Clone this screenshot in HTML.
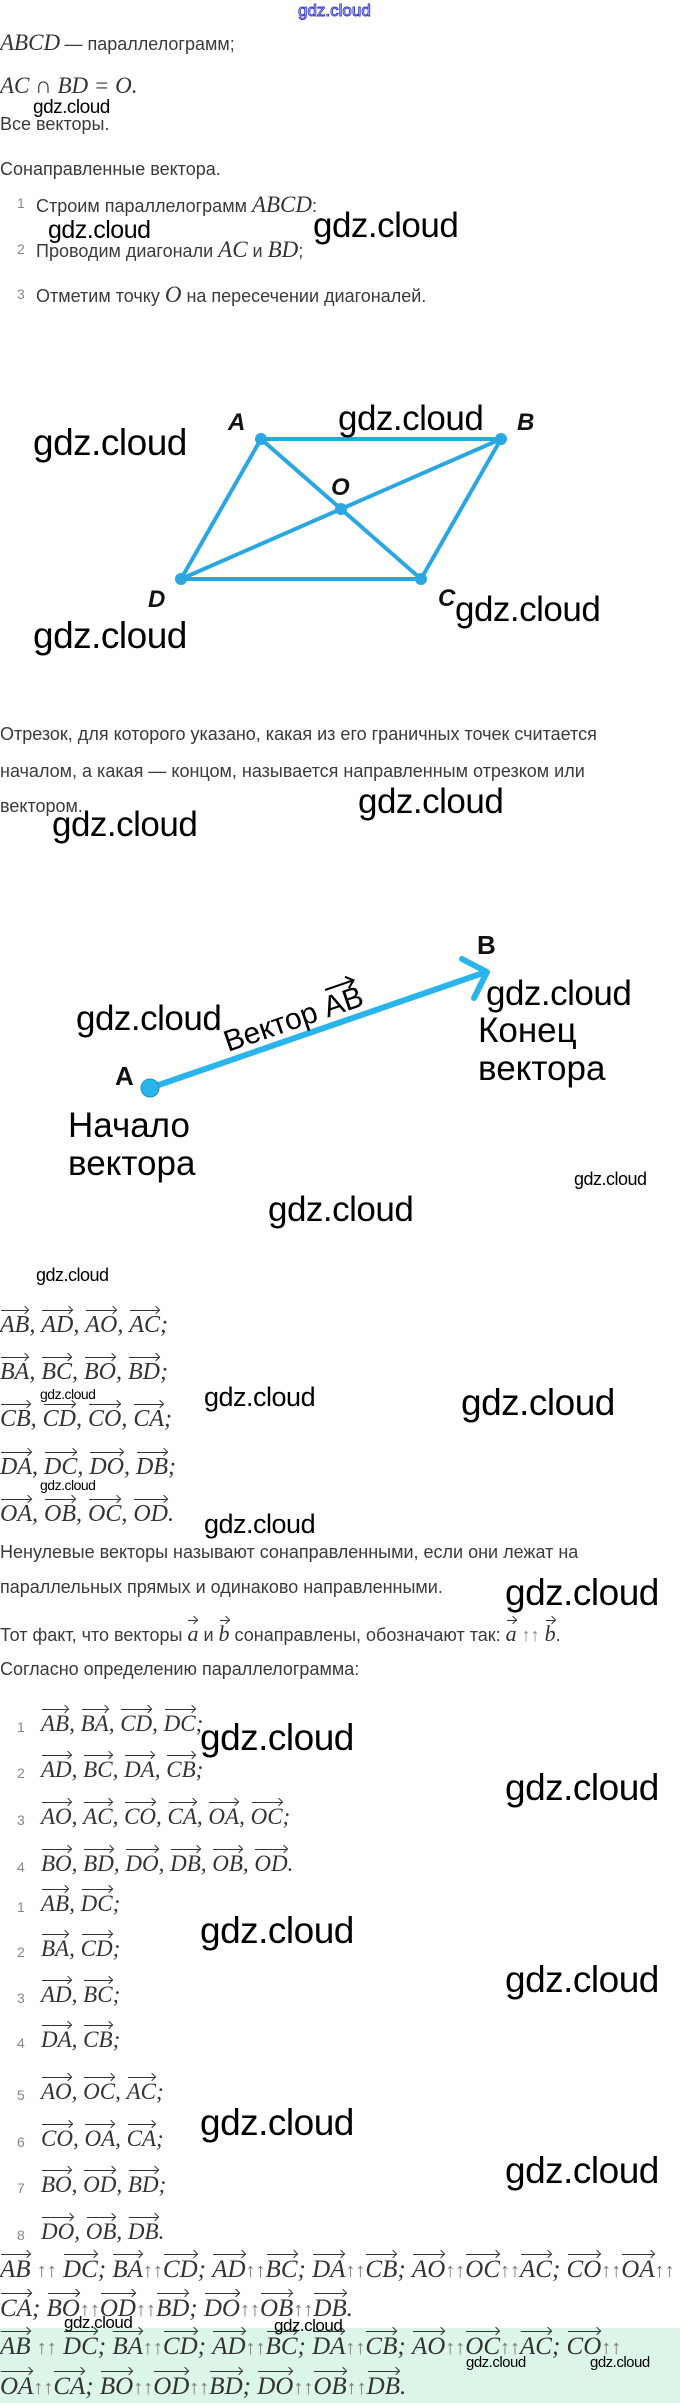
<!DOCTYPE html>
<html><head><meta charset="utf-8"><style>
body{margin:0;width:680px;height:2403px;position:relative;background:#fff;overflow:hidden;font-family:"Liberation Sans",sans-serif;}
.a{position:absolute;white-space:nowrap;line-height:1;}
.t{color:#3a3a3a;font-size:18px;}
.m{font-family:"Liberation Serif",serif;font-style:italic;color:#333;}
.n{color:#888;font-size:14px;}
.w{color:#000;font-family:"Liberation Sans",sans-serif;letter-spacing:-0.5px;}
.v{position:relative;display:inline-block;}
.v::before{content:"";position:absolute;left:1px;right:1px;top:-3px;border-top:1.3px solid #333;}
.v::after{content:"";position:absolute;right:1px;top:-6px;width:5px;height:5px;border-top:1.3px solid #333;border-right:1.3px solid #333;transform:rotate(45deg);}
.l{font-size:25px;color:#333;}
.ar{font-style:normal;color:#777;font-size:20px;}
</style></head><body>
<div class="a" style="left:298px;top:2px;font-size:17px;color:#fff;-webkit-text-stroke:1px #3b3bd0;font-family:'Liberation Sans',sans-serif;">gdz.cloud</div>

<div class="a" style="left:0;top:31px;"><span class="m" style="font-size:23px">ABCD</span> <span class="t">— параллелограмм;</span></div>
<div class="a m" style="left:0;top:74px;font-size:23px;">AC ∩ BD = O.</div>
<div class="a w" style="left:33px;top:98px;font-size:19px;">gdz.cloud</div>
<div class="a t" style="left:0;top:115px;">Все векторы.</div>
<div class="a t" style="left:0;top:160px;">Сонаправленные вектора.</div>
<div class="a" style="left:17px;top:196px;"><span class="n">1</span></div>
<div class="a t" style="left:36px;top:193px;">Строим параллелограмм <span class="m" style="font-size:23px">ABCD</span>:</div>
<div class="a w" style="left:48px;top:218px;font-size:25px;">gdz.cloud</div>
<div class="a w" style="left:313px;top:208px;font-size:35px;">gdz.cloud</div>
<div class="a" style="left:17px;top:242px;"><span class="n">2</span></div>
<div class="a t" style="left:36px;top:238px;">Проводим диагонали <span class="m" style="font-size:23px">AC</span> и <span class="m" style="font-size:23px">BD</span>;</div>
<div class="a" style="left:17px;top:287px;"><span class="n">3</span></div>
<div class="a t" style="left:36px;top:283px;">Отметим точку <span class="m" style="font-size:23px">O</span> на пересечении диагоналей.</div>

<svg class="a" style="left:0;top:0" width="680" height="1250">
<g stroke="#2aa7e0" stroke-width="4" fill="none" stroke-linecap="round">
<polygon points="261,439 501,439 421,579 181,579"/>
<line x1="261" y1="439" x2="421" y2="579"/><line x1="501" y1="439" x2="181" y2="579"/>
</g>
<g fill="#2aa7e0"><circle cx="261" cy="439" r="6"/><circle cx="501" cy="439" r="6"/><circle cx="421" cy="579" r="6"/><circle cx="181" cy="579" r="6"/><circle cx="341" cy="509" r="6"/></g>
<g font-family="Liberation Sans,sans-serif" font-style="italic" font-weight="bold" font-size="24" fill="#111">
<text x="228" y="430">A</text><text x="517" y="430">B</text><text x="331" y="495">O</text><text x="148" y="607">D</text><text x="438" y="606">C</text>
</g>
<line x1="150" y1="1088" x2="486" y2="972" stroke="#2ab4ec" stroke-width="6" stroke-linecap="round"/>
<polyline points="462,959 487,972 474,998" fill="none" stroke="#2ab4ec" stroke-width="6" stroke-linecap="round" stroke-linejoin="round"/>
<circle cx="150" cy="1088" r="9" fill="#2ab4ec" stroke="#1a8fc8" stroke-width="1"/>
<g font-family="Liberation Sans,sans-serif" font-weight="bold" font-size="26" fill="#111">
<text x="477" y="954">B</text><text x="115" y="1085">A</text>
</g>
<g transform="translate(228,1052) rotate(-19)">
<text x="0" y="0" font-family="Liberation Sans,sans-serif" font-size="30" fill="#000">Вектор AB</text>
<line x1="112" y1="-27" x2="142" y2="-27" stroke="#000" stroke-width="2"/>
<polyline points="135,-33 142,-27 135,-21" fill="none" stroke="#000" stroke-width="2"/>
</g>
</svg>
<div class="a w" style="left:33px;top:424px;font-size:37px;">gdz.cloud</div>
<div class="a w" style="left:338px;top:401px;font-size:35px;">gdz.cloud</div>
<div class="a w" style="left:455px;top:592px;font-size:35px;">gdz.cloud</div>
<div class="a w" style="left:33px;top:617px;font-size:37px;">gdz.cloud</div>

<div class="a t" style="left:0;top:725px;">Отрезок, для которого указано, какая из его граничных точек считается</div>
<div class="a t" style="left:0;top:762px;">началом, а какая — концом, называется направленным отрезком или</div>
<div class="a t" style="left:0;top:797px;">вектором.</div>
<div class="a w" style="left:358px;top:784px;font-size:35px;">gdz.cloud</div>
<div class="a w" style="left:52px;top:807px;font-size:35px;">gdz.cloud</div>

<div class="a w" style="left:76px;top:1001px;font-size:35px;">gdz.cloud</div>
<div class="a w" style="left:486px;top:976px;font-size:35px;">gdz.cloud</div>
<div class="a w" style="left:478px;top:1012px;font-size:35px;line-height:1.08;letter-spacing:0;">Конец<br>вектора</div>
<div class="a w" style="left:68px;top:1107px;font-size:35px;line-height:1.08;letter-spacing:0;">Начало<br>вектора</div>
<div class="a w" style="left:574px;top:1170px;font-size:18px;">gdz.cloud</div>
<div class="a w" style="left:268px;top:1192px;font-size:35px;">gdz.cloud</div>

<div class="a w" style="left:36px;top:1266px;font-size:18px;">gdz.cloud</div>
<div class="a m l" style="left:0;top:1313px;font-size:24px;"><span class="v">AB</span>, <span class="v">AD</span>, <span class="v">AO</span>, <span class="v">AC</span>;</div>
<div class="a m l" style="left:0;top:1360px;font-size:24px;"><span class="v">BA</span>, <span class="v">BC</span>, <span class="v">BO</span>, <span class="v">BD</span>;</div>
<div class="a w" style="left:40px;top:1387px;font-size:14px;">gdz.cloud</div>
<div class="a m l" style="left:0;top:1407px;font-size:24px;"><span class="v">CB</span>, <span class="v">CD</span>, <span class="v">CO</span>, <span class="v">CA</span>;</div>
<div class="a m l" style="left:0;top:1455px;font-size:24px;"><span class="v">DA</span>, <span class="v">DC</span>, <span class="v">DO</span>, <span class="v">DB</span>;</div>
<div class="a w" style="left:40px;top:1478px;font-size:14px;">gdz.cloud</div>
<div class="a m l" style="left:0;top:1502px;font-size:24px;"><span class="v">OA</span>, <span class="v">OB</span>, <span class="v">OC</span>, <span class="v">OD</span>.</div>
<div class="a w" style="left:204px;top:1384px;font-size:27px;">gdz.cloud</div>
<div class="a w" style="left:461px;top:1384px;font-size:37px;">gdz.cloud</div>
<div class="a w" style="left:204px;top:1511px;font-size:27px;">gdz.cloud</div>
<div class="a t" style="left:0;top:1543px;">Ненулевые векторы называют сонаправленными, если они лежат на</div>
<div class="a t" style="left:0;top:1578px;">параллельных прямых и одинаково направленными.</div>
<div class="a w" style="left:505px;top:1574px;font-size:37px;">gdz.cloud</div>
<div class="a t" style="left:0;top:1623px;">Тот факт, что векторы <span class="m v" style="font-size:22px">a</span> и <span class="m v" style="font-size:22px">b</span> сонаправлены, обозначают так: <span class="m v" style="font-size:22px">a</span> <span style="color:#888">↑↑</span> <span class="m v" style="font-size:22px">b</span>.</div>
<div class="a t" style="left:0;top:1660px;">Согласно определению параллелограмма:</div>

<div class="a n" style="left:17px;top:1720px;">1</div><div class="a m" style="left:41px;top:1712px;font-size:23px;"><span class="v">AB</span>, <span class="v">BA</span>, <span class="v">CD</span>, <span class="v">DC</span>;</div>
<div class="a n" style="left:17px;top:1766px;">2</div><div class="a m" style="left:41px;top:1758px;font-size:23px;"><span class="v">AD</span>, <span class="v">BC</span>, <span class="v">DA</span>, <span class="v">CB</span>;</div>
<div class="a n" style="left:17px;top:1813px;">3</div><div class="a m" style="left:41px;top:1805px;font-size:23px;"><span class="v">AO</span>, <span class="v">AC</span>, <span class="v">CO</span>, <span class="v">CA</span>, <span class="v">OA</span>, <span class="v">OC</span>;</div>
<div class="a n" style="left:17px;top:1860px;">4</div><div class="a m" style="left:41px;top:1852px;font-size:23px;"><span class="v">BO</span>, <span class="v">BD</span>, <span class="v">DO</span>, <span class="v">DB</span>, <span class="v">OB</span>, <span class="v">OD</span>.</div>
<div class="a n" style="left:17px;top:1900px;">1</div><div class="a m" style="left:41px;top:1892px;font-size:23px;"><span class="v">AB</span>, <span class="v">DC</span>;</div>
<div class="a n" style="left:17px;top:1945px;">2</div><div class="a m" style="left:41px;top:1937px;font-size:23px;"><span class="v">BA</span>, <span class="v">CD</span>;</div>
<div class="a n" style="left:17px;top:1991px;">3</div><div class="a m" style="left:41px;top:1983px;font-size:23px;"><span class="v">AD</span>, <span class="v">BC</span>;</div>
<div class="a n" style="left:17px;top:2036px;">4</div><div class="a m" style="left:41px;top:2028px;font-size:23px;"><span class="v">DA</span>, <span class="v">CB</span>;</div>
<div class="a n" style="left:17px;top:2088px;">5</div><div class="a m" style="left:41px;top:2080px;font-size:23px;"><span class="v">AO</span>, <span class="v">OC</span>, <span class="v">AC</span>;</div>
<div class="a n" style="left:17px;top:2135px;">6</div><div class="a m" style="left:41px;top:2127px;font-size:23px;"><span class="v">CO</span>, <span class="v">OA</span>, <span class="v">CA</span>;</div>
<div class="a n" style="left:17px;top:2181px;">7</div><div class="a m" style="left:41px;top:2173px;font-size:23px;"><span class="v">BO</span>, <span class="v">OD</span>, <span class="v">BD</span>;</div>
<div class="a n" style="left:17px;top:2228px;">8</div><div class="a m" style="left:41px;top:2220px;font-size:23px;"><span class="v">DO</span>, <span class="v">OB</span>, <span class="v">DB</span>.</div>
<div class="a w" style="left:200px;top:1719px;font-size:37px;">gdz.cloud</div>
<div class="a w" style="left:505px;top:1769px;font-size:37px;">gdz.cloud</div>
<div class="a w" style="left:200px;top:1912px;font-size:37px;">gdz.cloud</div>
<div class="a w" style="left:505px;top:1961px;font-size:37px;">gdz.cloud</div>
<div class="a w" style="left:200px;top:2104px;font-size:37px;">gdz.cloud</div>
<div class="a w" style="left:505px;top:2152px;font-size:37px;">gdz.cloud</div>

<div class="a" style="left:0;top:2328px;width:680px;height:75px;background:#dcf7e8;"></div>
<div class="a m l" style="left:0;top:2257px;"><span class="v">AB</span> <span class="ar">↑↑</span> <span class="v">DC</span>; <span class="v">BA</span><span class="ar">↑↑</span><span class="v">CD</span>; <span class="v">AD</span><span class="ar">↑↑</span><span class="v">BC</span>; <span class="v">DA</span><span class="ar">↑↑</span><span class="v">CB</span>; <span class="v">AO</span><span class="ar">↑↑</span><span class="v">OC</span><span class="ar">↑↑</span><span class="v">AC</span>; <span class="v">CO</span><span class="ar">↑↑</span><span class="v">OA</span><span class="ar">↑↑</span></div>
<div class="a m l" style="left:0;top:2296px;"><span class="v">CA</span>; <span class="v">BO</span><span class="ar">↑↑</span><span class="v">OD</span><span class="ar">↑↑</span><span class="v">BD</span>; <span class="v">DO</span><span class="ar">↑↑</span><span class="v">OB</span><span class="ar">↑↑</span><span class="v">DB</span>.</div>
<div class="a m l" style="left:0;top:2334px;"><span class="v">AB</span> <span class="ar">↑↑</span> <span class="v">DC</span>; <span class="v">BA</span><span class="ar">↑↑</span><span class="v">CD</span>; <span class="v">AD</span><span class="ar">↑↑</span><span class="v">BC</span>; <span class="v">DA</span><span class="ar">↑↑</span><span class="v">CB</span>; <span class="v">AO</span><span class="ar">↑↑</span><span class="v">OC</span><span class="ar">↑↑</span><span class="v">AC</span>; <span class="v">CO</span><span class="ar">↑↑</span></div>
<div class="a m l" style="left:0;top:2374px;"><span class="v">OA</span><span class="ar">↑↑</span><span class="v">CA</span>; <span class="v">BO</span><span class="ar">↑↑</span><span class="v">OD</span><span class="ar">↑↑</span><span class="v">BD</span>; <span class="v">DO</span><span class="ar">↑↑</span><span class="v">OB</span><span class="ar">↑↑</span><span class="v">DB</span>.</div>
<div class="a w" style="left:64px;top:2314px;font-size:17px;">gdz.cloud</div>
<div class="a w" style="left:274px;top:2317px;font-size:17px;">gdz.cloud</div>
<div class="a w" style="left:466px;top:2355px;font-size:15px;">gdz.cloud</div>
<div class="a w" style="left:590px;top:2355px;font-size:15px;">gdz.cloud</div>
</body></html>
